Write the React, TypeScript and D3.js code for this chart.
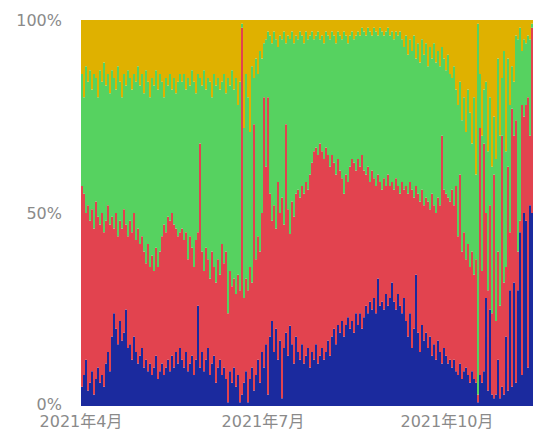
import React from "react";
import * as d3 from "d3";

const startDate = new Date(2021, 3, 1);

const blueVals = [
  5,8,12,4,6,9,3,7,10,6,
  8,5,11,14,9,18,24,20,16,22,
  17,19,25,15,16,12,18,14,11,13,
  15,10,12,9,11,8,10,13,7,9,
  11,8,10,12,9,13,10,14,11,15,
  12,10,14,9,11,13,8,12,26,10,
  14,9,12,15,8,11,13,6,10,12,
  8,10,7,1,9,6,10,5,8,1,
  3,6,9,1,7,10,4,8,12,6,
  14,10,16,3,18,22,14,20,12,17,
  2,15,19,13,21,16,11,18,14,12,
  16,11,13,15,10,14,12,16,11,13,
  15,12,14,17,13,18,20,16,21,19,
  22,18,21,23,20,22,19,24,21,24,
  20,23,26,24,27,25,28,24,33,26,
  27,25,29,26,28,32,27,25,29,26,
  24,28,22,18,24,15,20,34,19,14,
  21,17,19,15,18,13,16,12,17,14,
  11,15,13,11,12,10,12,9,8,11,
  7,9,10,8,6,9,7,6,1,8,
  6,9,28,4,25,3,2,3,12,2,
  5,3,18,4,30,5,32,6,30,45,
  8,50,48,10,52,50,
];

const redVals = [
  52,47,38,48,42,42,43,46,39,41,
  42,40,37,38,38,31,22,30,28,26,
  29,32,22,29,32,33,32,29,35,29,
  29,30,25,33,25,31,25,28,29,31,
  33,39,35,37,39,37,37,32,33,30,
  34,33,31,29,33,28,28,31,19,58,
  26,26,29,23,25,29,23,26,28,22,
  34,27,33,23,26,25,23,24,26,29,
  95,22,24,29,29,22,69,30,32,34,
  36,70,46,77,37,26,38,26,46,33,
  52,32,54,38,24,37,38,37,42,42,
  41,44,45,41,50,49,54,51,54,55,
  51,52,53,48,49,47,43,44,43,42,
  37,37,39,35,42,42,44,37,43,38,
  45,38,34,38,31,36,31,33,27,32,
  29,34,28,34,29,26,29,34,28,29,
  34,28,35,37,34,41,34,23,36,39,
  35,35,35,38,33,42,36,38,37,38,
  59,41,42,43,41,46,40,48,36,49,
  33,36,28,34,30,31,27,32,2,64,
  29,59,22,26,27,21,58,19,28,24,
  65,29,18,58,15,72,38,68,10,3,
  70,25,30,70,18,48,
];

const greenVals = [
  29,25,38,32,39,31,40,32,31,40,
  34,44,35,34,34,38,39,32,44,36,
  34,35,36,43,37,37,36,41,42,41,
  42,41,50,42,44,46,48,46,46,46,
  40,33,40,34,38,32,38,35,40,41,
  38,43,37,47,39,46,48,38,41,17,
  43,52,41,47,51,40,50,51,47,48,
  42,49,41,61,48,56,49,56,44,54,
  1,44,53,50,35,56,12,52,42,52,
  40,14,33,17,41,46,45,49,35,46,
  41,50,21,45,51,44,45,41,39,43,
  39,39,39,39,36,34,29,29,32,27,
  30,30,30,31,33,32,33,34,33,35,
  36,42,36,36,34,33,32,35,33,34,
  33,36,36,36,39,35,39,40,36,40,
  41,37,40,38,39,39,39,38,39,42,
  37,37,39,36,37,36,42,33,39,36,
  39,39,40,35,42,35,42,39,38,36,
  23,34,32,37,33,29,36,25,34,24,
  34,35,33,40,40,28,46,22,96,14,
  35,14,34,36,28,38,15,42,50,44,
  15,60,30,28,33,11,14,22,55,50,
  14,20,16,16,25,1,
];

const yellowVals = [
  14,20,12,16,13,18,14,15,20,13,
  16,11,17,14,19,13,15,18,12,16,
  20,14,17,13,15,18,14,16,12,17,
  14,19,13,16,20,15,17,13,18,14,
  16,20,15,17,14,18,15,19,16,14,
  16,14,18,15,17,13,16,19,14,15,
  17,13,18,15,16,20,14,17,15,18,
  16,14,19,15,17,13,18,15,22,16,
  1,28,14,20,29,12,15,10,14,8,
  10,6,5,3,4,6,3,5,7,4,
  5,3,6,4,5,3,6,4,5,3,
  4,6,3,5,4,3,5,4,3,5,
  4,6,3,4,5,3,4,6,3,4,
  5,3,4,6,4,3,5,4,3,4,
  2,3,4,2,3,4,2,3,4,2,
  3,4,3,2,4,3,5,3,4,3,
  5,7,4,9,5,8,4,10,6,11,
  5,9,6,12,7,10,6,11,8,12,
  7,10,13,9,14,15,12,18,22,16,
  26,20,29,18,24,32,20,40,1,14,
  30,18,16,34,20,38,25,36,10,30,
  15,8,34,10,22,12,16,4,5,2,
  8,5,6,4,5,1,
];

const seriesKeys = ["blue", "red", "green", "yellow"];
const seriesColors = ["#1b2a9e", "#e2434f", "#56d260", "#dfb100"];

const xTickDates = [new Date(2021, 3, 1), new Date(2021, 6, 1), new Date(2021, 9, 1)];
const xTickLabels = ["2021年4月", "2021年7月", "2021年10月"];
const yTickValues = [0, 0.5, 1];
const yTickLabels = ["0%", "50%", "100%"];

const W = 535;
const H = 431;
const M = { left: 81, right: 2, top: 20, bottom: 25 };

export default function App() {
  const n = Math.min(blueVals.length, redVals.length, greenVals.length, yellowVals.length);
  const rows = d3.range(n).map((i) => ({
    date: d3.timeDay.offset(startDate, i),
    blue: blueVals[i],
    red: redVals[i],
    green: greenVals[i],
    yellow: yellowVals[i],
  }));
  const endDate = d3.timeDay.offset(startDate, n);

  const x = d3.scaleTime().domain([startDate, endDate]).range([M.left, W - M.right]);
  const y = d3.scaleLinear().domain([0, 1]).range([H - M.bottom, M.top]);

  const stack = d3.stack<any>().keys(seriesKeys).offset(d3.stackOffsetExpand);
  const layers = stack(rows);

  const area = d3
    .area<{ x: Date; y0: number; y1: number }>()
    .x((d) => x(d.x))
    .y0((d) => y(d.y0))
    .y1((d) => y(d.y1))
    .curve(d3.curveStepAfter);

  const font = "'DejaVu Sans', 'Noto Sans CJK SC', sans-serif";

  return (
    <svg width={W} height={H} style={{ position: "absolute", left: 0, top: 0, background: "#fff" }}>
      {layers.map((layer, li) => {
        const pts = layer.map((p, i) => ({ x: rows[i].date, y0: p[0], y1: p[1] }));
        const last = layer[layer.length - 1];
        pts.push({ x: endDate, y0: last[0], y1: last[1] });
        return <path key={seriesKeys[li]} d={area(pts) || ""} fill={seriesColors[li]} />;
      })}
      {yTickValues.map((v, i) => (
        <text
          key={"y" + i}
          x={62}
          y={v === 0 ? y(v) - 1 : y(v) + 1}
          textAnchor="end"
          dominantBaseline="middle"
          fontFamily={font}
          fontSize={16}
          fill="#8a8a8a"
        >
          {yTickLabels[i]}
        </text>
      ))}
      {xTickDates.map((d, i) => (
        <text
          key={"x" + i}
          x={x(d)}
          y={427}
          textAnchor="middle"
          fontFamily={font}
          fontSize={16}
          fill="#8a8a8a"
        >
          {xTickLabels[i]}
        </text>
      ))}
    </svg>
  );
}
